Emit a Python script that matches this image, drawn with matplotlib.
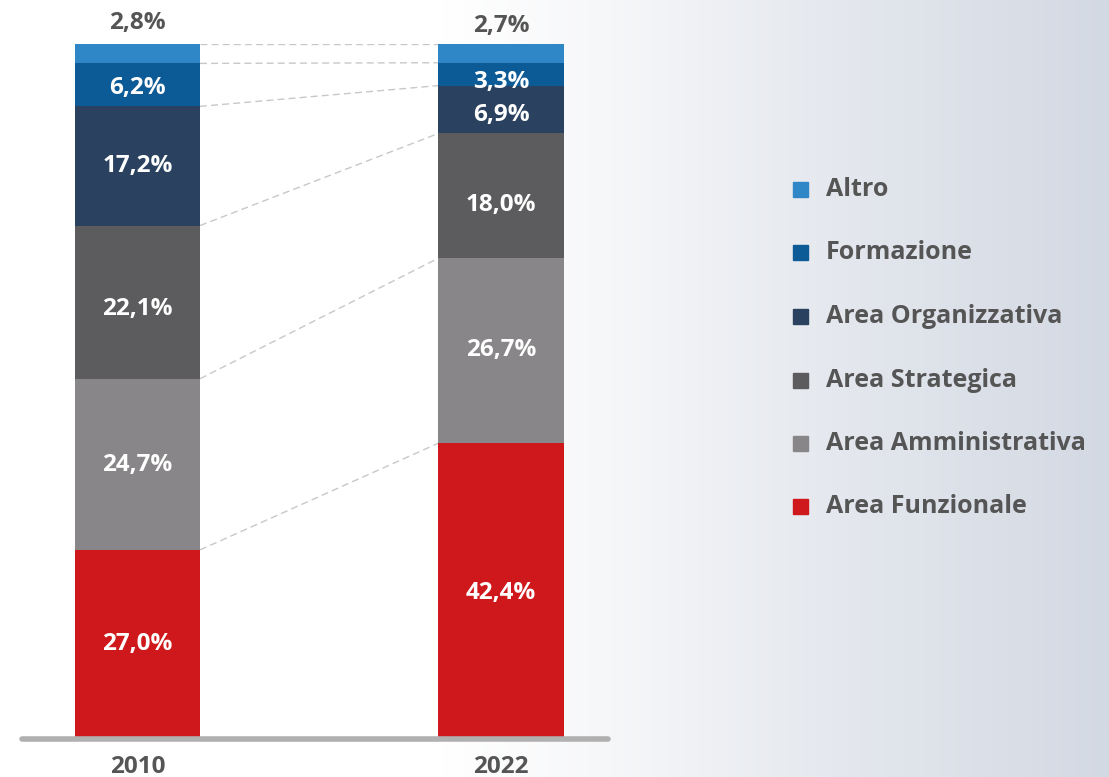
import numpy as np
import matplotlib
matplotlib.use("Agg")
import matplotlib.pyplot as plt
from matplotlib.transforms import offset_copy

years = ["2010", "2022"]
categories = ["Area Funzionale", "Area Amministrativa", "Area Strategica",
              "Area Organizzativa", "Formazione", "Altro"]
values_2010 = [27.0, 24.7, 22.1, 17.2, 6.2, 2.8]
values_2022 = [42.4, 26.7, 18.0, 6.9, 3.3, 2.7]
colors = ["#CF181B", "#888688", "#5C5B5D", "#2A4260", "#0C5A96", "#2F87C7"]

FONT = "Open Sans"
TEXT = "#555555"
FS = 17.5
DPI = 100

W, H = 1109, 777
fig = plt.figure(figsize=(W / DPI, H / DPI), dpi=DPI)

# background gradient
bg = fig.add_axes([0, 0, 1, 1], zorder=-10)
xs = np.linspace(0, 1, 600)
stops_x = [0.0, 0.40, 0.55, 0.75, 1.0]
r = np.interp(xs, stops_x, [255, 255, 246, 229, 211])
g = np.interp(xs, stops_x, [255, 255, 247, 232, 217])
b = np.interp(xs, stops_x, [255, 255, 249, 238, 227])
img = np.stack([r, g, b], axis=-1)[None, :, :] / 255.0
bg.imshow(img, aspect="auto", extent=[0, 1, 0, 1])
bg.set_axis_off()

# main axes
x0_px, x1_px = 20, 610
c0, c1 = 137.5, 501.0
unit = c1 - c0
xl = (x0_px - c0) / unit
xr = (x1_px - c0) / unit
bottom_px, top_px = 737, 44
ppu = (bottom_px - top_px) / 100.0
ax = fig.add_axes([x0_px / W, (H - bottom_px) / H, (x1_px - x0_px) / W,
                   (bottom_px - top_px) / H])
ax.set_xlim(xl, xr)
ax.set_ylim(0, 100)
ax.set_axis_off()
ax.patch.set_alpha(0)

bw = 125 / unit
data = [values_2010, values_2022]
for i, vals in enumerate(data):
    cum = 0
    for j, v in enumerate(vals):
        ax.bar(i, v, bottom=cum, width=bw, color=colors[j], linewidth=0, zorder=2)
        cum += v

# label vertical nudges in pixels (downward positive)
nudge = {(0, 0): -2.4, (0, 1): -2.3, (0, 2): 3.9, (0, 3): -3.0, (0, 4): 0.0,
         (1, 0): 0.0, (1, 1): -3.7, (1, 2): 6.2, (1, 3): 2.5, (1, 4): 5.4}
top_off = [23.5, 21.0]
half_cap = 0.714 * FS * DPI / 72 / 2

def px_offset(dy_down):
    return offset_copy(ax.transData, fig=fig, x=0,
                       y=-(half_cap + dy_down) * 72 / DPI, units="points")

for i, vals in enumerate(data):
    cum = 0
    for j, v in enumerate(vals):
        lab = f"{v:.1f}%".replace(".", ",")
        if j == len(vals) - 1:
            ax.text(i, 100, lab, ha="center", va="baseline",
                    transform=px_offset(-top_off[i]),
                    color=TEXT, fontsize=FS, fontweight="bold", family=FONT,
                    clip_on=False)
        else:
            ax.text(i, cum + v / 2, lab, ha="center", va="baseline",
                    transform=px_offset(nudge[(i, j)]),
                    color="white", fontsize=FS, fontweight="bold", family=FONT)
        cum += v

# connectors
cum0 = np.cumsum(values_2010)
cum1 = np.cumsum(values_2022)
for a, b_ in zip(cum0, cum1):
    ax.plot([bw / 2, 1 - bw / 2], [a, b_], color="#C8C8C8", lw=1,
            ls=(0, (5, 3)), zorder=1)

# baseline
ax.plot([xl + 0.006, xr - 0.006], [-2.3 / ppu, -2.3 / ppu], color="#B0B0B0", lw=4,
        solid_capstyle="round", clip_on=False, zorder=3)

# year labels
for i, y in enumerate(years):
    ax.text(i, 0, y, ha="center", va="baseline", transform=px_offset(27),
            color=TEXT, fontsize=FS, fontweight="bold", family=FONT,
            clip_on=False)

# legend
leg_y = [187, 250, 314, 378, 441, 504]
LFS = 18
lhalf = 0.714 * LFS * DPI / 72 / 2
for k, (cat, col) in enumerate(zip(reversed(categories), reversed(colors))):
    y = leg_y[k]
    sq_c = y + 2.5
    fig.patches.append(plt.Rectangle((793 / W, (H - sq_c - 7.5) / H), 15 / W, 15 / H,
                                     transform=fig.transFigure, color=col,
                                     figure=fig))
    fig.text(826 / W, (H - y - lhalf) / H, cat, ha="left", va="baseline",
             color=TEXT, fontsize=LFS, fontweight="bold", family=FONT)

fig.savefig("out.png", dpi=DPI)
